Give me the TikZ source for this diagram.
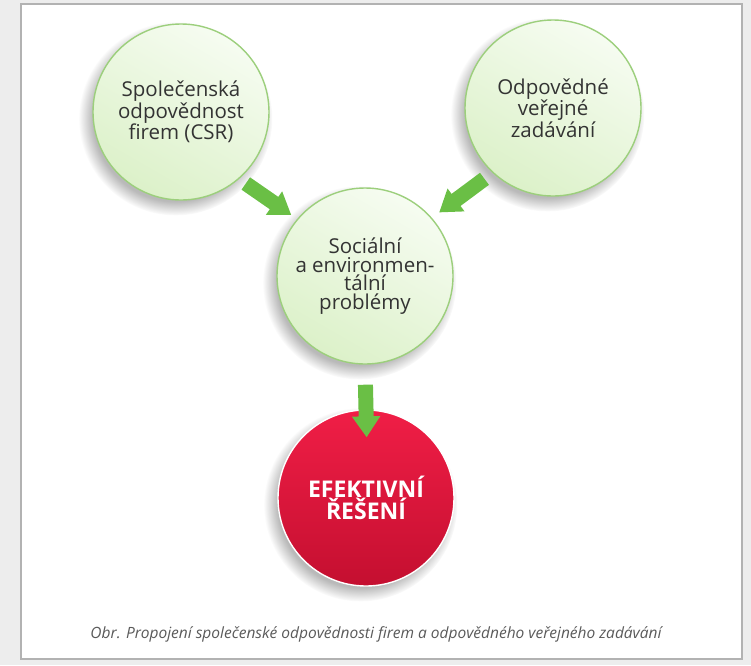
\documentclass[tikz,border=0pt]{standalone}
\usepackage{fontspec}
\setmainfont{Open Sans}
\usetikzlibrary{arrows.meta,shadows}

\definecolor{leafline}{HTML}{9CCF7C}
\definecolor{leaflight}{HTML}{F6FCF1}
\definecolor{leafdark}{HTML}{DCF1C9}
\definecolor{arrowgreen}{HTML}{6ABF45}
\definecolor{redlight}{HTML}{F01E46}
\definecolor{reddark}{HTML}{C40F30}
\definecolor{captiongray}{HTML}{5A5A5A}

\begin{document}
\begin{tikzpicture}[x=1pt, y=-1pt,
  bubble/.style={circle, minimum size=176pt, inner sep=0pt, align=center,
    draw=leafline, line width=1.4pt, top color=leaflight, bottom color=leafdark,
    shading angle=-30, text=black!80,
    font=\fontsize{20.5}{18.5}\selectfont,
    circular drop shadow={shadow xshift=-5pt, shadow yshift=-6pt, opacity=.55}},
  goal/.style={bubble, draw=white, top color=redlight, bottom color=reddark,
    text=white, font=\bfseries\fontsize{23}{22}\selectfont},
  fat/.style={draw=arrowgreen, line width=15pt,
    -{Triangle[width=27pt, length=21pt]}}]
\fill[black!7] (0,0) rectangle (751,665);
\filldraw[fill=white, draw=black!30, line width=1.5pt] (21,4) rectangle (742,659);
\useasboundingbox (0,0) rectangle (751,665);

\node[bubble] (csr) at (181,112) {Společenská\\odpovědnost\\firem (CSR)};
\node[bubble] (ovz) at (553,108) {Odpovědné\\veřejné\\zadávání};
\node[bubble] (soc) at (365,276) {Sociální\\a environmen-\\tální\\problémy};
\node[goal] (eff) at (366,498) {EFEKTIVNÍ\\ŘEŠENÍ};

\draw[fat, shorten <=8pt, shorten >=7pt] (csr.-49) -- (soc.140);
\draw[fat, shorten <=10pt, shorten >=9pt] (ovz.-133) -- (soc.41);
\draw[fat, shorten <=20pt, shorten >=-28pt] (soc.south) -- (eff.north);

\node[font=\itshape\fontsize{15.5}{17}\selectfont, text=captiongray] (cap) at (376,634)
  {Obr. Propojení společenské odpovědnosti firem a odpovědného veřejného zadávání};
\end{tikzpicture}
\end{document}
